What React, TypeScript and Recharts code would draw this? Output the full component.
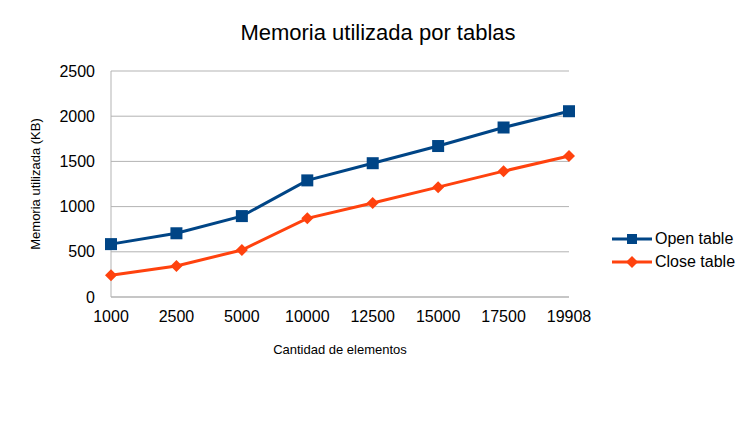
import { LineChart, Line, XAxis, YAxis, CartesianGrid } from 'recharts'

const categories = ['1000', '2500', '5000', '10000', '12500', '15000', '17500', '19908']
const openTable = [585, 705, 895, 1290, 1480, 1670, 1875, 2055]
const closeTable = [240, 343, 520, 870, 1040, 1215, 1392, 1560]
const yTicks = [0, 500, 1000, 1500, 2000, 2500]

const data = categories.map((name, i) => ({ name, open: openTable[i], close: closeTable[i] }))

const font = '"Liberation Sans", Arial, sans-serif'

const LegendBox = () => (
  <div style={{ position: 'absolute', left: 612, top: 227, fontFamily: font, fontSize: 16, color: '#000' }}>
    {[
      { label: 'Open table', color: '#004586', shape: 'square' },
      { label: 'Close table', color: '#ff420e', shape: 'diamond' },
    ].map((e) => (
      <div key={e.label} style={{ display: 'flex', alignItems: 'center', height: 23 }}>
        <svg width={40} height={14}>
          <line x1={0} y1={7} x2={40} y2={7} stroke={e.color} strokeWidth={3} />
          {e.shape === 'square' ? (
            <rect x={15} y={2} width={10} height={10} fill={e.color} />
          ) : (
            <polygon points="20,1 26,7 20,13 14,7" fill={e.color} />
          )}
        </svg>
        <span style={{ marginLeft: 3 }}>{e.label}</span>
      </div>
    ))}
  </div>
)

export default function App() {
  return (
    <div style={{ position: 'absolute', left: 0, top: 0, width: 756, height: 425, background: '#fff', fontFamily: font }}>
      <div style={{ position: 'absolute', top: 20, left: 0, width: 756, textAlign: 'center', fontSize: 22 }}>
        Memoria utilizada por tablas
      </div>
      <div style={{ position: 'absolute', left: 35, top: 184, transform: 'translate(-50%, -50%) rotate(-90deg)', fontSize: 13, whiteSpace: 'nowrap' }}>
        Memoria utilizada (KB)
      </div>
      <div style={{ position: 'absolute', top: 342, left: 111, width: 458, textAlign: 'center', fontSize: 13 }}>
        Cantidad de elementos
      </div>
      <LegendBox />
      <LineChart width={756} height={425} data={data} margin={{ top: 71, right: 187, bottom: 0, left: 0 }}>
        <CartesianGrid stroke="#b3b3b3" vertical={false} />
        <XAxis
          dataKey="name"
          height={128}
          tickLine={false}
          axisLine={{ stroke: '#b3b3b3' }}
          tick={{ fill: '#000', fontSize: 16, fontFamily: font }}
          tickMargin={8}
          interval={0}
        />
        <YAxis
          width={111}
          domain={[0, 2500]}
          ticks={yTicks}
          tickLine={false}
          axisLine={{ stroke: '#b3b3b3' }}
          tick={{ fill: '#000', fontSize: 16, fontFamily: font }}
          tickMargin={10}
        />
        <Line
          dataKey="open"
          stroke="#004586"
          strokeWidth={3}
          isAnimationActive={false}
          dot={(p: any) => <rect key={`o${p.index}`} x={p.cx - 6} y={p.cy - 6} width={12} height={12} fill="#004586" />}
        />
        <Line
          dataKey="close"
          stroke="#ff420e"
          strokeWidth={3}
          isAnimationActive={false}
          dot={(p: any) => (
            <polygon key={`c${p.index}`} points={`${p.cx},${p.cy - 6} ${p.cx + 6},${p.cy} ${p.cx},${p.cy + 6} ${p.cx - 6},${p.cy}`} fill="#ff420e" />
          )}
        />
      </LineChart>
    </div>
  )
}
